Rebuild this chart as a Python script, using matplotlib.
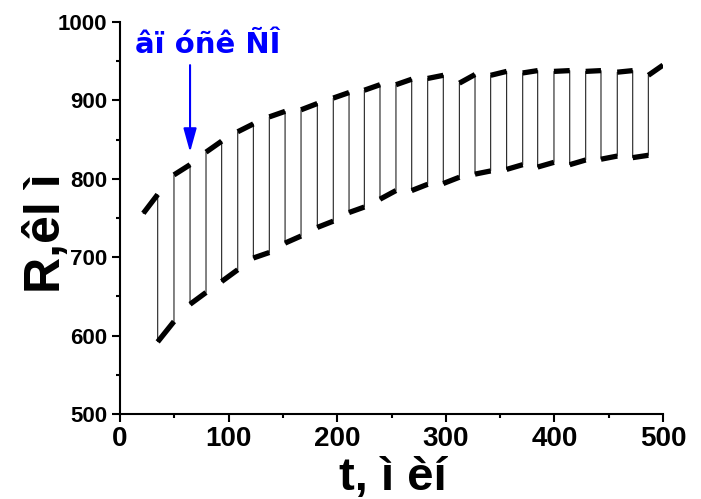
import matplotlib
matplotlib.use("Agg")
import matplotlib.pyplot as plt
from matplotlib import font_manager

# ---- data ----
# times (s) where the signal switches level (first = start of record, last = end)
t_edges = [21.5, 34.7, 49.7, 64.5, 79.2, 93.6, 108.4, 122.8, 137.5, 152.0,
           166.7, 181.7, 196.4, 210.9, 225.0, 239.4, 254.1, 268.6, 283.3,
           297.7, 312.5, 326.9, 341.3, 356.0, 370.8, 384.6, 399.6, 414.1,
           428.8, 442.9, 457.9, 472.1, 486.5, 500.0]
# resistance at start and end of each plateau
seg_start = [756, 592, 805, 640, 834, 669, 860, 699, 879, 718, 888, 738, 903,
             757, 913, 774, 920, 785, 928, 794, 922, 806, 932, 812, 935, 815,
             937, 818, 937, 825, 936, 827, 932]
seg_end = [780, 618, 818, 655, 848, 684, 870, 706, 886, 727, 896, 746, 910,
           764, 920, 785, 927, 793, 932, 802, 933, 810, 937, 818, 938, 821,
           938, 824, 938, 829, 938, 830, 945]

x_ticks = [0, 100, 200, 300, 400, 500]
y_ticks = [500, 600, 700, 800, 900, 1000]

annot_text = "âï óñê ÑÎ"
annot_xy = (64.5, 834)
annot_from = (64.5, 945)
annot_text_pos = (81, 960)
xlabel = "t, ì èí"
ylabel = "R,êl ì"

# ---- fonts ----
names = {f.name for f in font_manager.fontManager.ttflist}
tick_font = "Liberation Sans Narrow" if "Liberation Sans Narrow" in names else "Liberation Sans"
label_font = "Liberation Sans"

fig = plt.figure(figsize=(7.01, 4.99), dpi=100)
ax = fig.add_axes([120 / 701, 1 - 414 / 499, 543 / 701, 392 / 499])

# build the trace from the plateau values
xs, ys = [], []
for i in range(len(seg_start)):
    xs += [t_edges[i], t_edges[i + 1]]
    ys += [seg_start[i], seg_end[i]]
ax.plot(xs, ys, color="#222222", lw=0.8, solid_joinstyle="miter")
for i in range(len(seg_start)):
    ax.plot([t_edges[i], t_edges[i + 1]], [seg_start[i], seg_end[i]],
            color="black", lw=3.8, solid_capstyle="butt")

ax.set_xlim(0, 500)
ax.set_ylim(500, 1000)
ax.set_xticks(x_ticks)
ax.set_yticks(y_ticks)
ax.set_xticks([50, 150, 250, 350, 450], minor=True)
ax.set_yticks([550, 650, 750, 850, 950], minor=True)

for s in ["top", "right"]:
    ax.spines[s].set_visible(False)
for s in ["left", "bottom"]:
    ax.spines[s].set_linewidth(1.5)

ax.tick_params(which="major", direction="out", length=6, width=1.5)
ax.tick_params(which="minor", direction="out", length=3, width=1.5)
ax.tick_params(axis="y", pad=3)
ax.tick_params(axis="x", pad=3)
for lab in ax.get_yticklabels():
    lab.set_fontfamily(tick_font)
    lab.set_fontweight("bold")
    lab.set_fontsize(16)
for lab in ax.get_xticklabels():
    lab.set_fontfamily(tick_font)
    lab.set_fontweight("bold")
    lab.set_fontsize(20)

ax.text(0.503, -0.193, xlabel, transform=ax.transAxes, ha="center",
        va="baseline", fontsize=34, fontweight="bold", family=label_font)
ax.text(-0.1105, 0.46, ylabel, transform=ax.transAxes, ha="center",
        va="baseline", rotation=90, rotation_mode="anchor", fontsize=36,
        fontweight="bold", family=label_font)

ax.annotate("", xy=annot_xy, xytext=annot_from,
            arrowprops=dict(arrowstyle="-|>,head_length=0.9,head_width=0.25",
                            color="#0000ff", lw=1.5,
                            mutation_scale=16, shrinkA=0, shrinkB=0))
ax.text(annot_text_pos[0], annot_text_pos[1], annot_text, color="#0000ff",
        ha="center", va="baseline", fontsize=21, fontweight="bold",
        family="DejaVu Sans")

fig.savefig("out.png", dpi=100)
